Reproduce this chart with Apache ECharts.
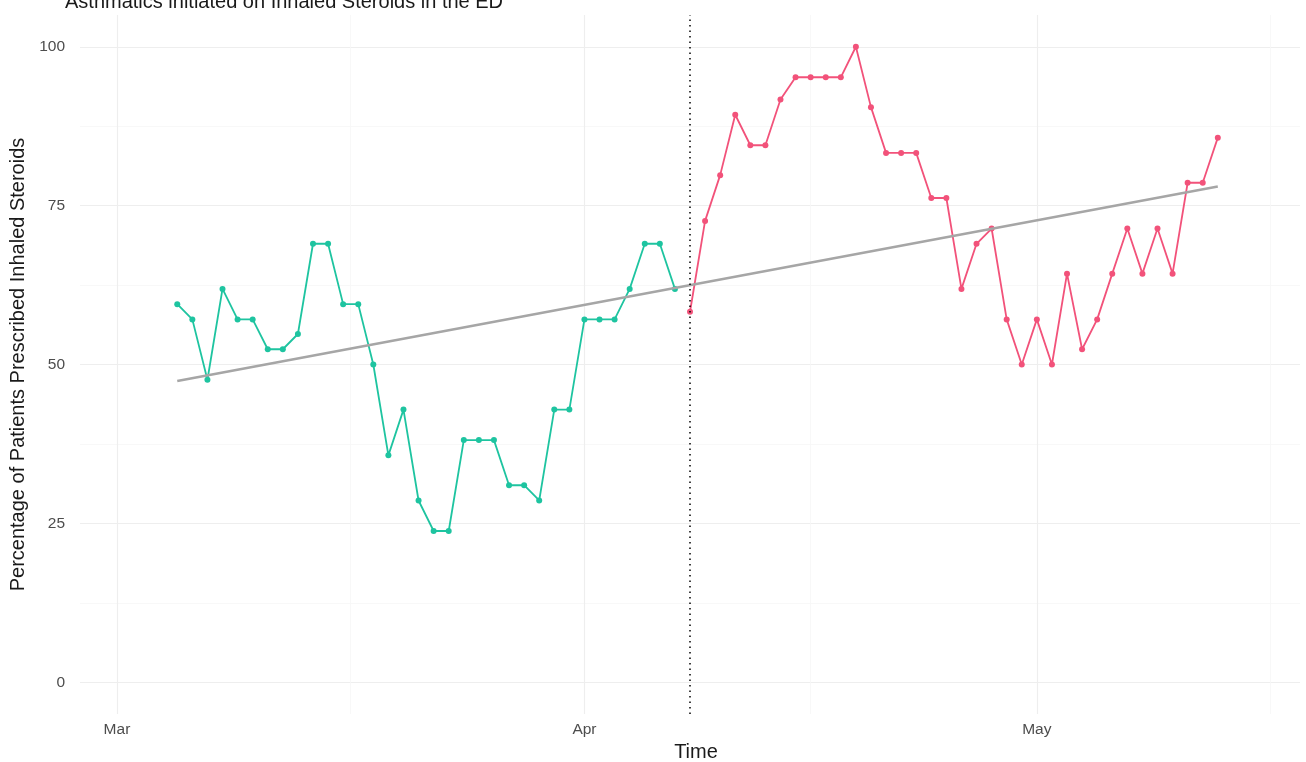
<!DOCTYPE html>
<html>
<head>
<meta charset="utf-8">
<title>Asthmatics initiated on Inhaled Steroids in the ED</title>
<script src="https://cdn.jsdelivr.net/npm/echarts@6/dist/echarts.min.js"></script>
<style>
  html, body { margin: 0; padding: 0; background: #fff; }
  #chart { width: 1306px; height: 762px; }
</style>
</head>
<body>
<div id="chart"></div>
<script>
// x is counted in days from 1 March
// daily share of patients, before the change (green) and after it (red)
const beforeStartDay = 4 // 5 Mar
const beforeValues = [59.5, 57.1, 47.6, 61.9, 57.1, 57.1, 52.4, 52.4, 54.8, 69.0,
  69.0, 59.5, 59.5, 50.0, 35.7, 42.9, 28.6, 23.8, 23.8, 38.1,
  38.1, 38.1, 31.0, 31.0, 28.6, 42.9, 42.9, 57.1, 57.1, 57.1,
  61.9, 69.0, 69.0, 61.9]

const afterStartDay = 38 // 8 Apr
const afterValues = [58.3, 72.6, 79.8, 89.3, 84.5, 84.5, 91.7, 95.2, 95.2, 95.2,
  95.2, 100, 90.5, 83.3, 83.3, 83.3, 76.2, 76.2, 61.9, 69.0,
  71.4, 57.1, 50.0, 57.1, 50.0, 64.3, 52.4, 57.1, 64.3, 71.4,
  64.3, 71.4, 64.3, 78.6, 78.6, 85.7]

// fitted trend over the whole period
const trendDays = [4, 73]
const trendValues = [47.4, 78.0]

const changeDay = 38
const monthDays = [0, 31, 61]
const monthLabels = ['Mar', 'Apr', 'May']
const minorDays = [15.5, 46, 76.5]
const yTicks = [0, 25, 50, 75, 100]
const yMinor = [12.5, 37.5, 62.5, 87.5]

function dailyPairs (startDay, values) {
  return values.map((v, i) => [startDay + i, v])
}

const xMin = -2.45
const xMax = 78.45
const font = 'Liberation Sans, Arial, Helvetica, sans-serif'

let myChart = echarts.init(document.getElementById('chart'))
myChart.setOption({
  animation: false,
  backgroundColor: '#fff',
  title: {
    text: 'Asthmatics initiated on Inhaled Steroids in the ED',
    left: 60,
    top: -13,
    textStyle: { fontFamily: font, fontSize: 20, fontWeight: 'normal', color: '#1a1a1a' }
  },
  grid: { left: 80, right: 6, top: 15, bottom: 48, outerBoundsMode: 'none' },
  xAxis: [
    {
      type: 'value',
      min: xMin,
      max: xMax,
      name: 'Time',
      nameLocation: 'middle',
      nameGap: 27,
      nameTextStyle: { fontFamily: font, fontSize: 20, color: '#1a1a1a', padding: [0, 0, 0, 12] },
      axisLine: { show: false },
      axisTick: { show: false, customValues: monthDays },
      axisLabel: {
        customValues: monthDays,
        formatter: (value) => monthLabels[monthDays.indexOf(value)] || '',
        fontFamily: font,
        fontSize: 15.5,
        color: '#4d4d4d',
        margin: 8
      },
      splitLine: { show: true, lineStyle: { color: '#eeeeee', width: 1.2 } }
    },
    {
      type: 'value',
      min: xMin,
      max: xMax,
      position: 'bottom',
      axisLine: { show: false },
      axisTick: { show: false, customValues: minorDays },
      axisLabel: { show: false, customValues: minorDays },
      splitLine: { show: true, lineStyle: { color: '#f6f6f6', width: 0.8 } }
    }
  ],
  yAxis: [
    {
      type: 'value',
      min: -5,
      max: 105,
      name: 'Percentage of Patients Prescribed Inhaled Steroids',
      nameLocation: 'middle',
      nameRotate: 90,
      nameGap: 40,
      nameTextStyle: { fontFamily: font, fontSize: 20, color: '#1a1a1a' },
      axisLine: { show: false },
      axisTick: { show: false, customValues: yTicks },
      axisLabel: {
        customValues: yTicks,
        fontFamily: font,
        fontSize: 15.5,
        color: '#4d4d4d',
        margin: 15
      },
      splitLine: { show: true, lineStyle: { color: '#eeeeee', width: 1.2 } }
    },
    {
      type: 'value',
      min: -5,
      max: 105,
      position: 'left',
      axisLine: { show: false },
      axisTick: { show: false, customValues: yMinor },
      axisLabel: { show: false, customValues: yMinor },
      splitLine: { show: true, lineStyle: { color: '#f6f6f6', width: 0.8 } }
    }
  ],
  series: [
    {
      name: 'trend',
      type: 'line',
      data: trendDays.map((d, i) => [d, trendValues[i]]),
      symbol: 'none',
      lineStyle: { color: '#a6a6a6', width: 2.6 },
      z: 3
    },
    {
      name: 'before',
      type: 'line',
      data: dailyPairs(beforeStartDay, beforeValues),
      symbol: 'circle',
      symbolSize: 6,
      itemStyle: { color: '#1ec4a0' },
      lineStyle: { color: '#1ec4a0', width: 1.8 },
      z: 2,
      markLine: {
        silent: true,
        symbol: 'none',
        label: { show: false },
        lineStyle: { color: '#000', type: [1.5, 4], width: 1.5 },
        data: [{ xAxis: changeDay }]
      }
    },
    {
      name: 'after',
      type: 'line',
      data: dailyPairs(afterStartDay, afterValues),
      symbol: 'circle',
      symbolSize: 6,
      itemStyle: { color: '#f2527a' },
      lineStyle: { color: '#f2527a', width: 1.8 },
      z: 2
    }
  ]
})
</script>
</body>
</html>
